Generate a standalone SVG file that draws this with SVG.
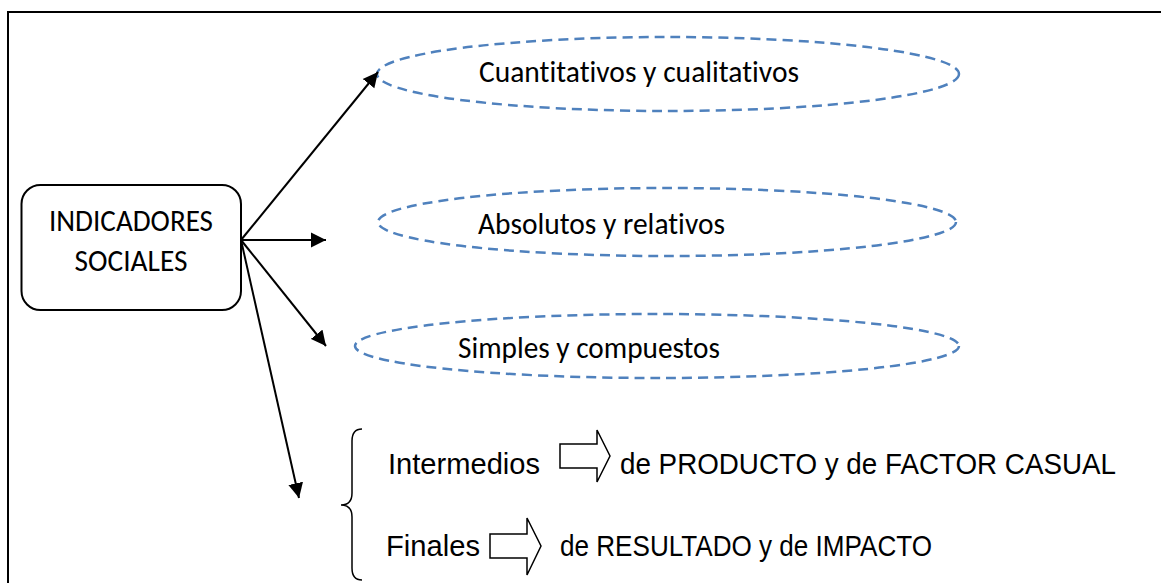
<svg xmlns="http://www.w3.org/2000/svg" width="1161" height="583" viewBox="0 0 1161 583">
<defs>
<marker id="ah" markerUnits="userSpaceOnUse" markerWidth="16" markerHeight="16" refX="15" refY="8" orient="auto" viewBox="0 0 16 16">
<path d="M0,0.5 L15,8 L0,15.5 z" fill="#000"/>
</marker>
</defs>
<style>
.frame{fill:none;stroke:#000;stroke-width:2}
.box{fill:#fff;stroke:#000;stroke-width:2}
.ell{fill:none;stroke:#4f81bd;stroke-width:2.5;stroke-dasharray:10 6}
.cal{font-family:Carlito,Lato,"Open Sans",sans-serif;font-size:30px;fill:#000;font-variant-ligatures:none}
.ari{font-family:"Liberation Sans",Arial,sans-serif;font-size:29px;fill:#000}
.con{fill:none;stroke:#000;stroke-width:2;marker-end:url(#ah)}
.blk{fill:#fff;stroke:#000;stroke-width:1.5;stroke-linejoin:miter}
.brace{fill:none;stroke:#000;stroke-width:1.5}
</style>
<rect width="1161" height="583" fill="#fff"/>
<path class="frame" d="M8,583 V12 H1161"/>

<g id="node-indicadores">
<rect class="box" x="21.5" y="185" width="219.5" height="125" rx="19"/>
<text class="cal" x="131" y="231" text-anchor="middle" textLength="164" lengthAdjust="spacingAndGlyphs">INDICADORES</text>
<text class="cal" x="131" y="271" text-anchor="middle" textLength="113" lengthAdjust="spacingAndGlyphs">SOCIALES</text>
</g>

<g id="node-cuantitativos">
<ellipse class="ell" cx="668" cy="74" rx="291" ry="37"/>
<text class="cal" x="479" y="82" textLength="320" lengthAdjust="spacingAndGlyphs">Cuantitativos y cualitativos</text>
</g>

<g id="node-absolutos">
<ellipse class="ell" cx="667" cy="222" rx="289" ry="34"/>
<text class="cal" x="478" y="234" textLength="247" lengthAdjust="spacingAndGlyphs">Absolutos y relativos</text>
</g>

<g id="node-simples">
<ellipse class="ell" cx="657" cy="346" rx="302" ry="32"/>
<text class="cal" x="458" y="358" textLength="262" lengthAdjust="spacingAndGlyphs">Simples y compuestos</text>
</g>

<g id="node-tipos">
<path class="brace" d="M362,429 Q352,429 352,441 L352,493 Q352,505 341,505 Q352,505 352,517 L352,568 Q352,580 362,580"/>
<text class="ari" x="388" y="474" textLength="152" lengthAdjust="spacingAndGlyphs">Intermedios</text>
<polygon class="blk" points="560,444 597,444 597,430 610,456 597,482 597,468 560,468"/>
<text class="ari" x="620" y="474" textLength="496" lengthAdjust="spacingAndGlyphs">de PRODUCTO y de FACTOR CASUAL</text>
<text class="ari" x="386" y="556" textLength="94" lengthAdjust="spacingAndGlyphs">Finales</text>
<polygon class="blk" points="490,534 527,534 527,518 541,546 527,575 527,558 490,558"/>
<text class="ari" x="560" y="556" textLength="372" lengthAdjust="spacingAndGlyphs">de RESULTADO y de IMPACTO</text>
</g>

<g id="connectors">
<line class="con" x1="241" y1="240" x2="378" y2="72"/>
<line class="con" x1="241" y1="240" x2="326" y2="240"/>
<line class="con" x1="241" y1="240" x2="326" y2="346"/>
<line class="con" x1="241" y1="240" x2="299" y2="498"/>
</g>
</svg>
